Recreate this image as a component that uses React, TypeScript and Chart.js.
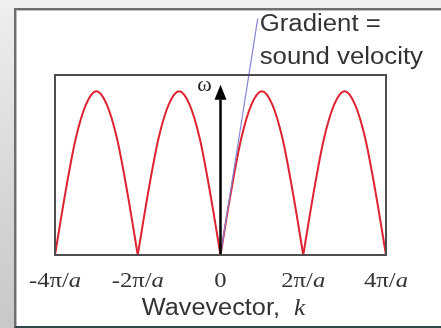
import React, { useEffect, useRef } from "react";
import { Chart, registerables } from "chart.js";

Chart.register(...registerables);

// k in units of π/a
const kValues = [
  -4, -3.75, -3.5, -3.25, -3, -2.75, -2.5, -2.25,
  -2, -1.75, -1.5, -1.25, -1, -0.75, -0.5, -0.25,
  0, 0.25, 0.5, 0.75, 1, 1.25, 1.5, 1.75,
  2, 2.25, 2.5, 2.75, 3, 3.25, 3.5, 3.75, 4,
];
// ω (normalised to the arch height)
const omegaValues = [
  0, 0.38, 0.71, 0.92, 1, 0.92, 0.71, 0.38,
  0, 0.38, 0.71, 0.92, 1, 0.92, 0.71, 0.38,
  0, 0.38, 0.71, 0.92, 1, 0.92, 0.71, 0.38,
  0, 0.38, 0.71, 0.92, 1, 0.92, 0.71, 0.38, 0,
];
const tickValues = [-4, -2, 0, 2, 4];
const tickLabels = [
  ["-4π/", "a"],
  ["-2π/", "a"],
  ["0", ""],
  ["2π/", "a"],
  ["4π/", "a"],
];
const gradientK = [0, 0.9];
const gradientOmega = [0, 1.445];
const axisK = [0, 0];
const axisOmega = [0, 0.95];
const arrowTipOmega = 1.04;
const yMax = 1.1;

const SANS = '"Liberation Sans", Arial, sans-serif';
const SERIF = '"Liberation Serif", "Times New Roman", serif';

type Part = { text: string; font: string };

function drawParts(
  ctx: CanvasRenderingContext2D,
  parts: Part[],
  x: number,
  y: number,
  align: "left" | "center",
  sx: number,
  color: string
) {
  ctx.save();
  ctx.fillStyle = color;
  ctx.textBaseline = "alphabetic";
  ctx.textAlign = "left";
  const widths = parts.map((p) => {
    ctx.font = p.font;
    return ctx.measureText(p.text).width * sx;
  });
  const total = widths.reduce((a, b) => a + b, 0);
  let cx = align === "center" ? x - total / 2 : x;
  parts.forEach((p, i) => {
    ctx.font = p.font;
    ctx.save();
    ctx.translate(cx, y);
    ctx.scale(sx, 1);
    ctx.fillText(p.text, 0, 0);
    ctx.restore();
    cx += widths[i];
  });
  ctx.restore();
}

const decorPlugin = {
  id: "decor",
  afterDatasetsDraw(chart: any) {
    const ctx: CanvasRenderingContext2D = chart.ctx;
    const { left, right, top, bottom } = chart.chartArea;
    const xs = chart.scales.x;
    const ys = chart.scales.y;

    // frame box
    ctx.save();
    ctx.strokeStyle = "#4d4d4d";
    ctx.lineWidth = 2;
    ctx.strokeRect(left, top, right - left, bottom - top);
    ctx.restore();

    // arrow head
    const ax = xs.getPixelForValue(0);
    const tipY = ys.getPixelForValue(arrowTipOmega);
    ctx.save();
    ctx.fillStyle = "#000";
    ctx.beginPath();
    ctx.moveTo(ax, tipY);
    ctx.lineTo(ax + 6, tipY + 15);
    ctx.lineTo(ax - 6, tipY + 15);
    ctx.closePath();
    ctx.fill();
    ctx.restore();

    // omega label
    drawParts(ctx, [{ text: "ω", font: `20px ${SERIF}` }], ax - 16, tipY + 6, "center", 1.1, "#222");

    // tick labels
    tickValues.forEach((v, i) => {
      const px = xs.getPixelForValue(v);
      const [a, b] = tickLabels[i];
      const parts: Part[] = [{ text: a, font: `22px ${SERIF}` }];
      if (b) parts.push({ text: b, font: `italic 22px ${SERIF}` });
      drawParts(ctx, parts, px, bottom + 32, "center", 1.12, "#333");
    });

    // axis title
    drawParts(
      ctx,
      [
        { text: "Wavevector,  ", font: `23px ${SANS}` },
        { text: "k", font: `italic 23px ${SERIF}` },
      ],
      (left + right) / 2 + 3,
      bottom + 60,
      "center",
      1.1,
      "#333"
    );

    // gradient note
    const gx = xs.getPixelForValue(gradientK[1]) + 2;
    drawParts(ctx, [{ text: "Gradient =", font: `23px ${SANS}` }], gx, top - 44, "left", 1.12, "#333");
    drawParts(ctx, [{ text: "sound velocity", font: `23px ${SANS}` }], gx, top - 11, "left", 1.12, "#333");
  },
};

export default function App() {
  const ref = useRef<HTMLCanvasElement | null>(null);

  useEffect(() => {
    if (!ref.current) return;
    const arches: any[] = [];
    for (let s = 0; s + 8 < kValues.length; s += 8) {
      const pts = [];
      for (let i = s; i <= s + 8; i++) pts.push({ x: kValues[i], y: omegaValues[i] });
      arches.push({
        data: pts,
        borderColor: "#de2230",
        borderWidth: 2,
        pointRadius: 0,
        cubicInterpolationMode: "monotone",
        fill: false,
        order: 3,
      });
    }
    const chart = new Chart(ref.current, {
      type: "line",
      data: {
        datasets: [
          ...arches,
          {
            data: gradientK.map((k, i) => ({ x: k, y: gradientOmega[i] })),
            borderColor: "#8484d6",
            borderWidth: 1.2,
            pointRadius: 0,
            tension: 0,
            clip: false,
            order: 2,
          },
          {
            data: axisK.map((k, i) => ({ x: k, y: axisOmega[i] })),
            borderColor: "#000",
            borderWidth: 2.5,
            pointRadius: 0,
            tension: 0,
            order: 1,
          },
        ],
      },
      options: {
        responsive: false,
        animation: false,
        devicePixelRatio: 1,
        layout: { padding: { left: 55, right: 55, top: 75, bottom: 73 } },
        plugins: { legend: { display: false }, tooltip: { enabled: false }, title: { display: false } },
        scales: {
          x: { type: "linear", min: -4, max: 4, display: false },
          y: { type: "linear", min: 0, max: yMax, display: false },
        },
      },
      plugins: [decorPlugin],
    });
    return () => chart.destroy();
  }, []);

  return (
    <div
      style={{
        position: "absolute",
        left: 0,
        top: 0,
        width: 441,
        height: 328,
        overflow: "hidden",
        background: "linear-gradient(180deg, #efefef 0%, #d6d6d6 60%, #c8c8c8 100%)",
      }}
    >
      <div
        style={{
          position: "absolute",
          left: 14,
          top: 8,
          right: -4,
          bottom: 0,
          background: "#ffffff",
          borderLeft: "2px solid #6e6e6e",
          borderTop: "2px solid #6e6e6e",
          borderBottom: "2px solid #2f4746",
          boxShadow: "inset 1px 1px 0 #bdbdbd",
        }}
      />
      <canvas ref={ref} width={441} height={328} style={{ position: "absolute", left: 0, top: 0 }} />
    </div>
  );
}
